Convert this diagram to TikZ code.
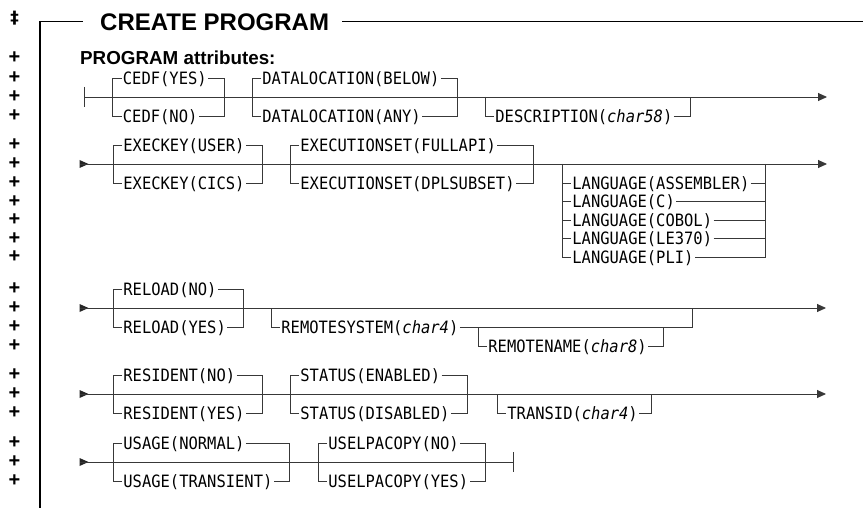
\documentclass[tikz,border=0pt]{standalone}
\usepackage{fontspec}
\setmainfont{Liberation Sans}
\newfontfamily\dmono[FakeStretch=0.91]{DejaVu Sans Mono}
\newfontfamily\ddfont{DejaVu Sans}
\usetikzlibrary{arrows.meta}
\tikzset{
  ln/.style={draw=black!78, line width=0.9pt},
  frm/.style={draw=black, line width=1.3pt},
  kw/.style={font=\dmono\fontsize{17}{17}\selectfont, anchor=west, inner xsep=1.2pt, inner ysep=0pt, text height=12.4pt, text depth=0pt},
  mk/.style={font=\fontsize{20}{20}\selectfont\bfseries, inner sep=0pt},
  ddmk/.style={font=\ddfont\fontsize{17}{17}\selectfont\bfseries, inner sep=0pt},
  endarr/.style={-{Triangle[length=9pt,width=8pt]}},
  ttl/.style={font=\fontsize{24}{24}\selectfont\bfseries, anchor=west, inner sep=0pt, text height=17.2pt, text depth=0pt},
  sub/.style={font=\fontsize{18.8}{18.8}\selectfont\bfseries, anchor=west, inner sep=0pt, text height=13.4pt, text depth=0pt},
}
% two-way choice, default above the line: L, R, y, name, upper, lower
\newcommand\twogrp[6]{%
  \node[kw] (#4u) at ({#1+9},{#3-19}) {#5};
  \node[kw] (#4l) at ({#1+9},{#3+19}) {#6};
  \draw[ln] (#4u.west) -- ({#1},{#3-19}) -- ({#1},{#3+19}) -- (#4l.west);
  \draw[ln] (#4u.east) -- ({#2},{#3-19}) -- ({#2},{#3+19}) -- (#4l.east);
}
% optional item below the line: L, R, y, name, text
\newcommand\optgrp[5]{%
  \node[kw] (#4l) at ({#1+9},{#3+19}) {#5};
  \draw[ln] ({#1},{#3}) -- ({#1},{#3+19}) -- (#4l.west);
  \draw[ln] (#4l.east) -- ({#2},{#3+19}) -- ({#2},{#3});
}
\newcommand\startarr[1]{\fill[black!85] (79.5,{#1-4}) -- (88.5,{#1}) -- (79.5,{#1+4}) -- cycle;}
\begin{document}
\begin{tikzpicture}[x=1pt,y=-1pt]
\fill[white] (0,0) rectangle (863,508);
\useasboundingbox (0,0) rectangle (863,508);

% frame and headings
\node[ttl] (title) at (100,21.5) {CREATE PROGRAM};
\coordinate (fb) at (40,508);
\coordinate (fe) at (863,21.5);
\draw[frm] (fb) |- ([xshift=-17pt]title.west);
\draw[frm] ([xshift=13pt]title.east) -- (fe);
\node[sub] (attr) at (80,58) {PROGRAM attributes:};

% change markers
\node[ddmk] (dd) at (14.5,18) {‡};
\foreach \yy in {58,78,97,116,145,164,183,201.5,220,238.5,257,289,308,327,346,375,394,413,443,462,481}
  \node[mk] at (14.5,\yy) {+};

% ---- row 1
\coordinate (r1s) at (84.5,97);
\coordinate (r1e) at (827,97);
\draw[ln] (84.5,87) -- (84.5,107);
\draw[ln,endarr] (r1s) -- (r1e);
\twogrp{112.5}{224}{97}{cedf}{CEDF(YES)}{CEDF(NO)}
\twogrp{252}{457}{97}{dloc}{DATALOCATION(BELOW)}{DATALOCATION(ANY)}
\optgrp{485}{690}{97}{desc}{DESCRIPTION(\textit{char58})}

% ---- row 2
\startarr{164}
\coordinate (r2s) at (80,164);
\coordinate (r2e) at (827,164);
\draw[ln,endarr] (r2s) -- (r2e);
\twogrp{113}{262}{164}{ek}{EXECKEY(USER)}{EXECKEY(CICS)}
\twogrp{290}{533}{164}{es}{EXECUTIONSET(FULLAPI)}{EXECUTIONSET(DPLSUBSET)}
\node[kw] (la1) at (571,183) {LANGUAGE(ASSEMBLER)};
\node[kw] (la2) at (571,201.5) {LANGUAGE(C)};
\node[kw] (la3) at (571,220) {LANGUAGE(COBOL)};
\node[kw] (la4) at (571,238.5) {LANGUAGE(LE370)};
\node[kw] (la5) at (571,257) {LANGUAGE(PLI)};
\draw[ln] (562,164) -- (562,257) -- (la5.west);
\draw[ln] (765,164) -- (765,257) -- (la5.east);
\foreach \i/\yy in {1/183,2/201.5,3/220,4/238.5}{
  \draw[ln] (562,\yy) -- (la\i.west);
  \draw[ln] (la\i.east) -- (765,\yy);
}

% ---- row 3
\startarr{308}
\coordinate (r3s) at (80,308);
\coordinate (r3e) at (826,308);
\draw[ln,endarr] (r3s) -- (r3e);
\twogrp{113}{243}{308}{rl}{RELOAD(NO)}{RELOAD(YES)}
\node[kw] (rsys) at (280,327) {REMOTESYSTEM(\textit{char4})};
\node[kw] (rnam) at (487,346) {REMOTENAME(\textit{char8})};
\draw[ln] (271,308) -- (271,327) -- (rsys.west);
\draw[ln] (rsys.east) -- (692,327) -- (692,308);
\draw[ln] (478,327) -- (478,346) -- (rnam.west);
\draw[ln] (rnam.east) -- (663,346) -- (663,327);

% ---- row 4
\startarr{394}
\coordinate (r4s) at (80,394);
\coordinate (r4e) at (826,394);
\draw[ln,endarr] (r4s) -- (r4e);
\twogrp{113}{262}{394}{rs}{RESIDENT(NO)}{RESIDENT(YES)}
\twogrp{290}{467}{394}{st}{STATUS(ENABLED)}{STATUS(DISABLED)}
\optgrp{497}{651}{394}{tr}{TRANSID(\textit{char4})}

% ---- row 5
\startarr{462}
\coordinate (r5s) at (80,462);
\coordinate (r5e) at (513,462);
\draw[ln] (r5s) -- (r5e);
\draw[ln] (513,452) -- (513,472);
\twogrp{113}{289}{462}{us}{USAGE(NORMAL)}{USAGE(TRANSIENT)}
\twogrp{318}{485}{462}{ul}{USELPACOPY(NO)}{USELPACOPY(YES)}
\end{tikzpicture}
\end{document}
